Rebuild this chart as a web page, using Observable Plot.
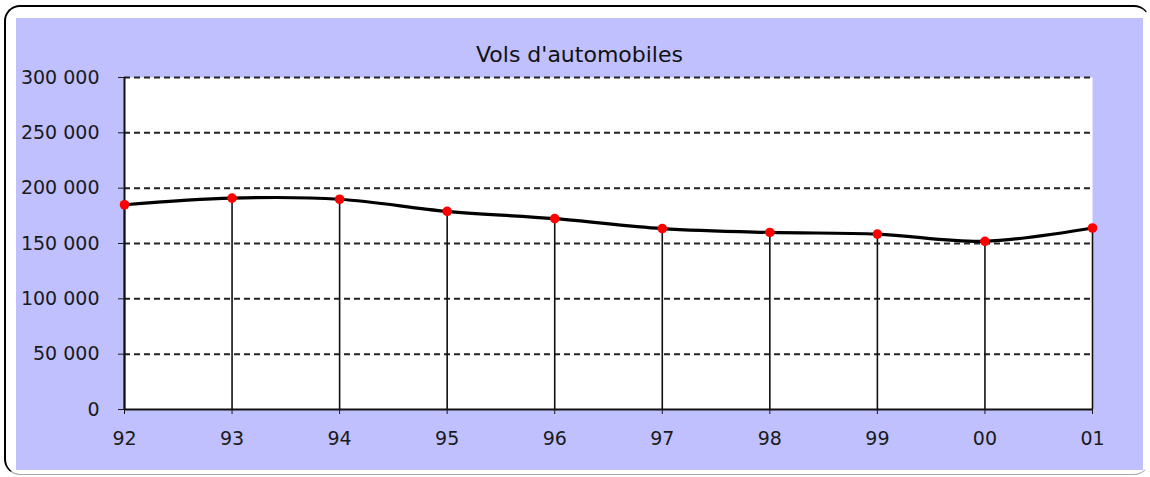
<!DOCTYPE html>
<html><head><meta charset="utf-8">
<script src="https://cdn.jsdelivr.net/npm/d3@7"></script>
<script src="https://cdn.jsdelivr.net/npm/@observablehq/plot@0.6"></script>
<style>
body{margin:0;background:#fff;}
#wrap{position:relative;width:1150px;height:477px;overflow:hidden;}
#frame{position:absolute;left:4px;top:5px;width:1146px;height:470px;box-sizing:border-box;border-top:2px solid #000;border-left:2px solid #000;border-right:1px solid #fff;border-bottom:1px solid #aaa;border-radius:16px;background:#fff;}
#panel{position:absolute;left:16px;top:18px;width:1127px;height:452px;background:#C0C0FF;}
#title{position:absolute;left:16px;width:1127px;top:44px;text-align:center;font-family:"DejaVu Sans";font-size:22px;line-height:22px;color:#111;}
#chart{position:absolute;left:0;top:0;}
</style></head><body>
<div id="wrap"><div id="frame"></div><div id="panel"></div><div id="title">Vols d'automobiles</div><div id="chart"></div></div>
<script>
const years = ["92","93","94","95","96","97","98","99","00","01"];
const values = [185000, 191000, 190000, 179000, 172500, 163500, 160000, 158500, 152000, 164000];
const yTicks = [0, 50000, 100000, 150000, 200000, 250000, 300000];
const gridTicks = [50000, 100000, 150000, 200000, 250000, 300000];

const data = years.map((y, i) => ({year: y, value: values[i]}));
const fmt = d => d3.format(",")(d).replace(/,/g, " ");

const chart = Plot.plot({
  width: 1150, height: 477,
  marginLeft: 124, marginRight: 58, marginTop: 77, marginBottom: 68,
  style: {background: "transparent", fontFamily: "DejaVu Sans", fontSize: "19px", color: "#1a1a1a", overflow: "visible"},
  x: {type: "point", domain: years, padding: 0, round: false},
  y: {domain: [0, 300000]},
  marks: [
    Plot.frame({fill: "white", stroke: "none"}),
    Plot.ruleY(gridTicks, {stroke: "#222", strokeWidth: 2, strokeDasharray: "6,4"}),
    Plot.ruleX(data, {x: "year", y1: 0, y2: "value", stroke: "#111", strokeWidth: 1.6}),
    Plot.ruleX([years[0]], {y1: 0, y2: 300000, stroke: "#111", strokeWidth: 2}),
    Plot.ruleY([0], {stroke: "#111", strokeWidth: 2}),
    Plot.line(data, {x: "year", y: "value", curve: "catmull-rom", stroke: "#000", strokeWidth: 3.2}),
    Plot.dot(data, {x: "year", y: "value", r: 4.8, fill: "#ff0000"}),
    Plot.axisY({ticks: yTicks, tickFormat: fmt, tickSize: 6, tickPadding: 19, label: null}),
    Plot.axisX({tickSize: 5, tickPadding: 17, label: null})
  ]
});
document.getElementById("chart").appendChild(chart);
</script>
</body></html>
